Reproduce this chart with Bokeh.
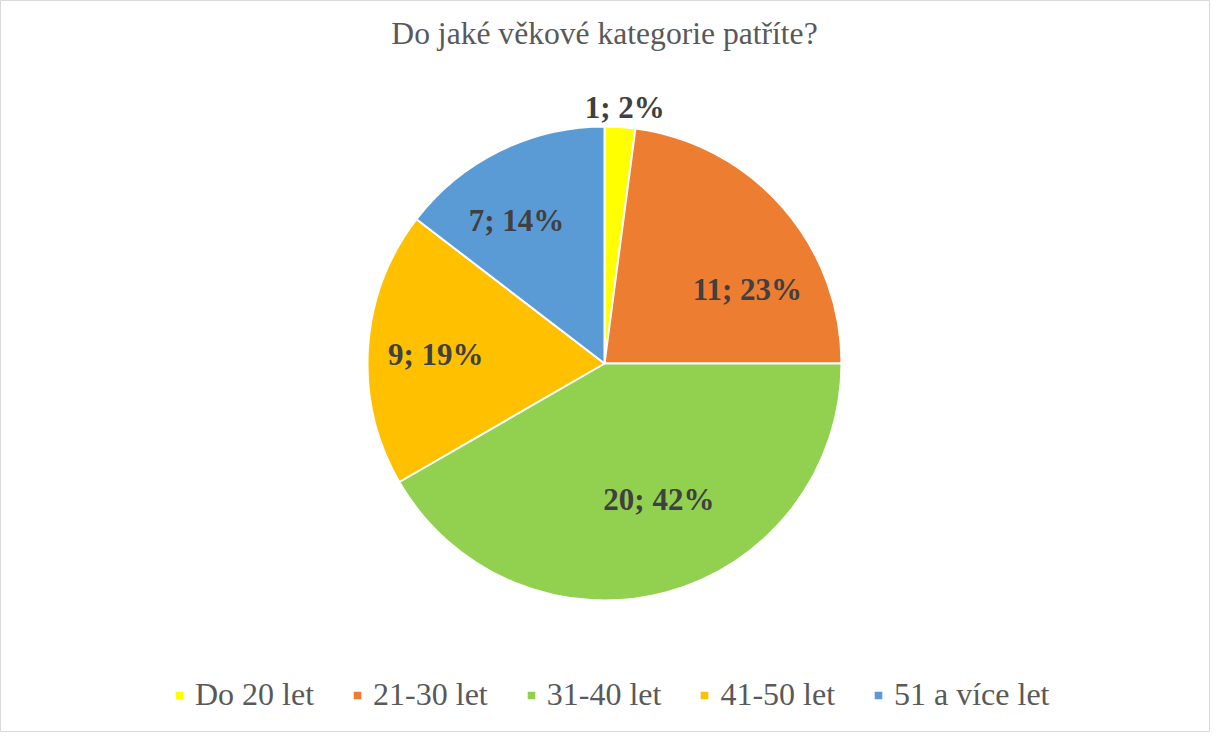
import math
from bokeh.plotting import figure
from bokeh.models import ColumnDataSource, Legend, LegendItem, Label
from bokeh.core.properties import value
from bokeh.embed import file_html
from bokeh.resources import INLINE

# ---- data ----
categories = ["Do 20 let", "21-30 let", "31-40 let", "41-50 let", "51 a více let"]
counts = [1, 11, 20, 9, 7]
percents = [2, 23, 42, 19, 14]
colors = ["#FFFF00", "#ED7D31", "#92D050", "#FFC000", "#5B9BD5"]
title_text = "Do jaké věkové kategorie patříte?"

# ---- layout ----
W, H = 1210, 732
CX, CY, R = 604, 369, 237
FONT = "'Liberation Serif', 'Times New Roman', Times, serif"
# label anchor positions (polar: degrees, pixels from centre)
label_polar = [(85.5, 257), (27.4, 161), (-68.2, 146.5), (177.0, 169), (121.6, 168)]

total = sum(counts)
starts, ends = [], []
a = math.pi / 2
for c in counts:
    starts.append(a)
    a -= 2 * math.pi * c / total
    ends.append(a)

src = ColumnDataSource(dict(
    cat=categories, start=starts, end=ends, color=colors,
    x=[CX] * len(counts), y=[CY] * len(counts),
))

p = figure(width=W, height=H, x_range=(0, W), y_range=(0, H),
           output_backend="svg", toolbar_location=None, min_border=0)
p.axis.visible = False
p.grid.visible = False
p.outline_line_color = "#D9D9D9"
p.outline_line_width = 1
p.background_fill_color = "white"
p.border_fill_color = "white"

wedge = p.wedge(x="x", y="y", radius=R, start_angle="start", end_angle="end",
                direction="clock", fill_color="color", line_color="white",
                line_width=2, source=src)

lx, ly, lt = [], [], []
for (ang, rr), c, pc in zip(label_polar, counts, percents):
    lx.append(CX + rr * math.cos(math.radians(ang)))
    ly.append(CY + rr * math.sin(math.radians(ang)))
    lt.append(f"{c}; {pc}%")
lsrc = ColumnDataSource(dict(x=lx, y=ly, t=lt))
p.text(x="x", y="y", text="t", source=lsrc, text_align="center",
       text_baseline="middle", text_font=value(FONT),
       text_font_size="31px", text_font_style="bold", text_color="#404040")

title = Label(x=CX, y=H - 33, text=title_text, text_align="center",
              text_baseline="middle", text_font=FONT,
              text_font_size="31.6px", text_color="#595959")
p.add_layout(title)

items = [LegendItem(label=cat, renderers=[wedge], index=i) for i, cat in enumerate(categories)]
legend = Legend(items=items, orientation="horizontal", location=(173, 19),
                label_text_font=FONT, label_text_font_size="32px",
                label_text_color="#595959", glyph_width=12, glyph_height=12,
                label_standoff=10, spacing=37, padding=0, margin=0,
                border_line_color=None, background_fill_alpha=0)
p.add_layout(legend, "center")

open("out.html", "w").write(file_html(p, INLINE))
